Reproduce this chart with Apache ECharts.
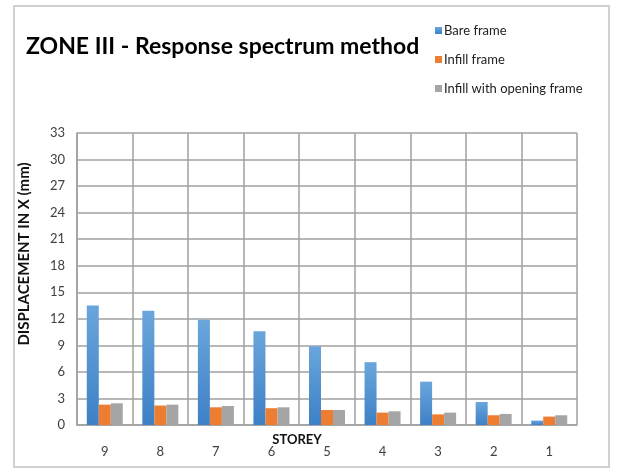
<!DOCTYPE html>
<html>
<head>
<meta charset="utf-8">
<script src="https://cdn.jsdelivr.net/npm/echarts@6/dist/echarts.min.js"></script>
<style>
html,body{margin:0;padding:0;background:#fff;}
#c{width:619px;height:472px;}
#frame{position:absolute;left:13px;top:5px;width:597px;height:463px;border:2px solid #d0d0d0;box-sizing:border-box;pointer-events:none;}
</style>
</head>
<body>
<div id="c"></div>
<div id="frame"></div>
<script>
var categories = ['9','8','7','6','5','4','3','2','1'];
var bareFrame = [13.5, 12.9, 11.9, 10.6, 8.9, 7.1, 4.9, 2.6, 0.5];
var infillFrame = [2.3, 2.2, 2.0, 1.9, 1.7, 1.4, 1.2, 1.1, 0.95];
var infillOpening = [2.45, 2.3, 2.15, 2.0, 1.7, 1.55, 1.4, 1.25, 1.1];
var seriesNames = ['Bare frame','Infill frame','Infill with opening frame'];

var font = "Lato,'Open Sans',sans-serif";
var chart = echarts.init(document.getElementById('c'));
var blue = new echarts.graphic.LinearGradient(0,0,0,1,[{offset:0,color:'#6aa6dc'},{offset:1,color:'#3d80c6'}]);
chart.setOption({
  animation:false,
  title:{text:'ZONE III - Response spectrum method',left:21,top:30,
    textStyle:{fontFamily:font,fontSize:23,fontWeight:'bold',color:'#000'}},
  legend:{orient:'vertical',left:430,top:19,itemGap:16,itemWidth:7,itemHeight:7,icon:'rect',
    textStyle:{fontFamily:font,fontSize:13,color:'#222',padding:[0,0,0,-3]},data:seriesNames},
  grid:{left:77,right:42,top:133,bottom:47},
  xAxis:{type:'category',data:categories,
    name:'STOREY',nameLocation:'middle',nameGap:8,nameMoveOverlap:false,
    nameTextStyle:{fontFamily:font,fontSize:13,fontWeight:'bold',color:'#111',padding:[0,60,0,0]},
    axisLine:{lineStyle:{color:'#a0a0a0',width:1.5}},axisTick:{show:false},
    axisLabel:{margin:20,fontFamily:font,fontSize:13,color:'#404040'},
    splitLine:{show:true,lineStyle:{color:'#a0a0a0',width:1.5}}},
  yAxis:{type:'value',min:0,max:33,interval:3,
    name:'DISPLACEMENT IN X (mm)',nameLocation:'middle',nameGap:45,nameRotate:90,
    nameTextStyle:{fontFamily:font,fontSize:15,fontWeight:'bold',color:'#111',padding:[0,0,0,50]},
    axisLine:{show:true,lineStyle:{color:'#a0a0a0',width:1.5}},axisTick:{show:false},
    axisLabel:{margin:12,fontFamily:font,fontSize:13,color:'#404040'},
    splitLine:{lineStyle:{color:'#a0a0a0',width:1.5}}},
  series:[
    {name:seriesNames[0],type:'bar',data:bareFrame,barWidth:12,barGap:'0%',itemStyle:{color:blue}},
    {name:seriesNames[1],type:'bar',data:infillFrame,barWidth:12,itemStyle:{color:'#ED7D31'}},
    {name:seriesNames[2],type:'bar',data:infillOpening,barWidth:12,itemStyle:{color:'#A5A5A5'}}
  ]
});
</script>
</body>
</html>
